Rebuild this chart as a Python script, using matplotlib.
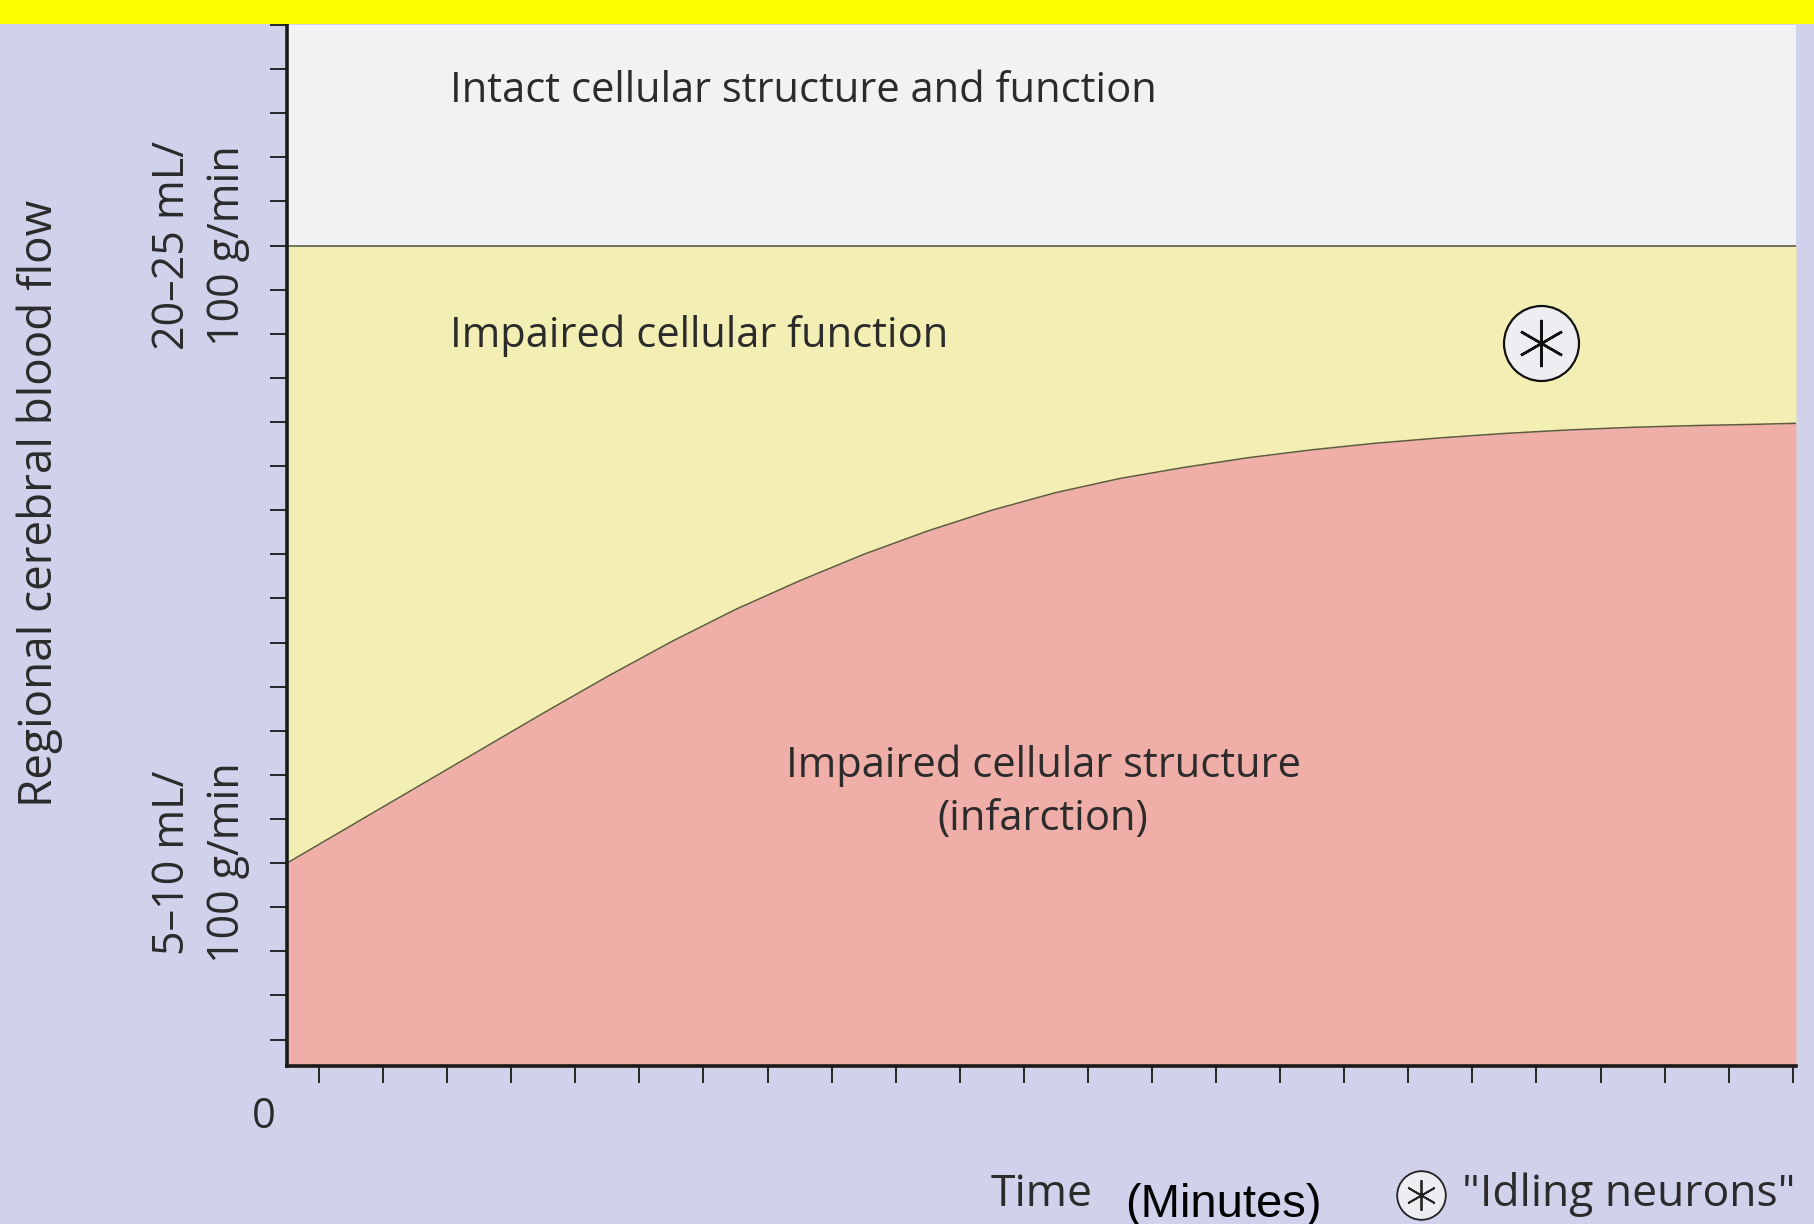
import matplotlib.pyplot as plt
from matplotlib.patches import Rectangle

# boundary between impaired function and infarction, in tick units
time_pts = [0, 1, 2, 3, 4, 5, 6, 7, 8, 9, 10, 11, 12, 13, 14, 15, 16, 17, 18, 19, 20, 21, 22, 23, 23.55]
infarct_edge = [4.6, 5.45, 6.3, 7.15, 8.0, 8.83, 9.62, 10.35, 11.0, 11.6, 12.13, 12.6, 13.0, 13.32,
                13.57, 13.79, 13.97, 14.12, 14.24, 14.34, 14.42, 14.48, 14.52, 14.55, 14.57]
function_edge = 18.6          # 20-25 mL/100 g/min
y_top = 23.6
x_right = 23.55

xticks = [0.5 + k for k in range(24)]
yticks = [0.6 + k for k in range(24)]

region_labels = ["Intact cellular structure and function",
                 "Impaired cellular function",
                 "Impaired cellular structure\n(infarction)"]
flow_labels = ["20\u201325 mL/\n100 g/min", "5\u201310 mL/\n100 g/min"]

bg = "#d0d1ea"
white_c = "#f2f2f5"
yellow_c = "#f3efb4"
pink_c = "#efaea8"
ink = "#2b2b2b"
font = ["Open Sans", "DejaVu Sans"]
W, H = 1814, 1224

fig = plt.figure(figsize=(W / 100, H / 100), dpi=100, facecolor=bg)
fig.patches.append(Rectangle((0, 1 - 24 / H), 1, 24 / H, transform=fig.transFigure,
                             facecolor="#ffff00", edgecolor="none", zorder=0))

ax = fig.add_axes([287 / W, 1 - 1066 / H, (1796 - 287) / W, (1066 - 25) / H])
ax.set_facecolor(white_c)
ax.set_xlim(0, x_right)
ax.set_ylim(0, y_top)

ax.fill_between(time_pts, 0, infarct_edge, color=pink_c, lw=0)
ax.fill_between(time_pts, infarct_edge, function_edge, color=yellow_c, lw=0)
ax.plot(time_pts, infarct_edge, color="#5e5a3e", lw=1.1)
ax.axhline(function_edge, color="#5e5e48", lw=1.2)

for s in ["top", "right"]:
    ax.spines[s].set_visible(False)
for s in ["left", "bottom"]:
    ax.spines[s].set_linewidth(2.6)
    ax.spines[s].set_color("#1a1a1a")

ax.set_xticks(xticks)
ax.set_yticks(yticks)
ax.set_xticklabels([])
ax.set_yticklabels([])
ax.tick_params(direction="out", length=12, width=1.3, color="#1a1a1a")

ax.text(2.55, 22.1, region_labels[0], fontsize=30, color=ink, family=font, va="center")
ax.text(2.55, 16.55, region_labels[1], fontsize=30, color=ink, family=font, va="center")
ax.text(11.8, 6.2, region_labels[2], fontsize=30, color=ink, family=font,
        va="center", ha="center", linespacing=1.35)

# "idling neurons" marker
ax.plot([19.57], [16.4], marker="o", ms=54, mfc="#eeeef2", mec="#111111", mew=1.6, clip_on=False)
ax.plot([19.57], [16.4], marker=(6, 2, 0), ms=34, mec="#111111", mew=1.8, clip_on=False)

# rotated flow labels beside the y axis
ax.text(-1.35, function_edge, flow_labels[0], rotation=90, fontsize=31, color=ink, family=font,
        ha="center", va="center", linespacing=1.3)
ax.text(-1.35, infarct_edge[0], flow_labels[1], rotation=90, fontsize=31, color=ink, family=font,
        ha="center", va="center", linespacing=1.3)

fig.text(40 / W, 1 - 503 / H, "Regional cerebral blood flow", rotation=90, fontsize=33,
         color=ink, family=font, ha="center", va="center")
fig.text(264 / W, 1 - 1117 / H, "0", fontsize=30, color=ink, family=font,
         ha="center", va="center")

fig.text(991 / W, 1 - 1206 / H, "Time", fontsize=32, color=ink, family=font,
         ha="left", va="baseline")
fig.text(1125 / W, 1 - 1217 / H, "(Minutes)", fontsize=34, color="black",
         family=["Liberation Sans", "DejaVu Sans"], ha="left", va="baseline")
fig.text(1796 / W, 1 - 1206 / H, "\"Idling neurons\"", fontsize=32, color=ink, family=font,
         ha="right", va="baseline")

leg_ax = fig.add_axes([0, 0, 1, 1], facecolor="none")
leg_ax.set_xlim(0, W)
leg_ax.set_ylim(H, 0)
leg_ax.axis("off")
leg_ax.plot([1421], [1195], marker="o", ms=35, mfc="#eeeef2", mec="#222222", mew=1.3)
leg_ax.plot([1421], [1195], marker=(6, 2, 0), ms=22, mec="#222222", mew=1.3)

fig.savefig("out.png", dpi=100, facecolor=bg)
